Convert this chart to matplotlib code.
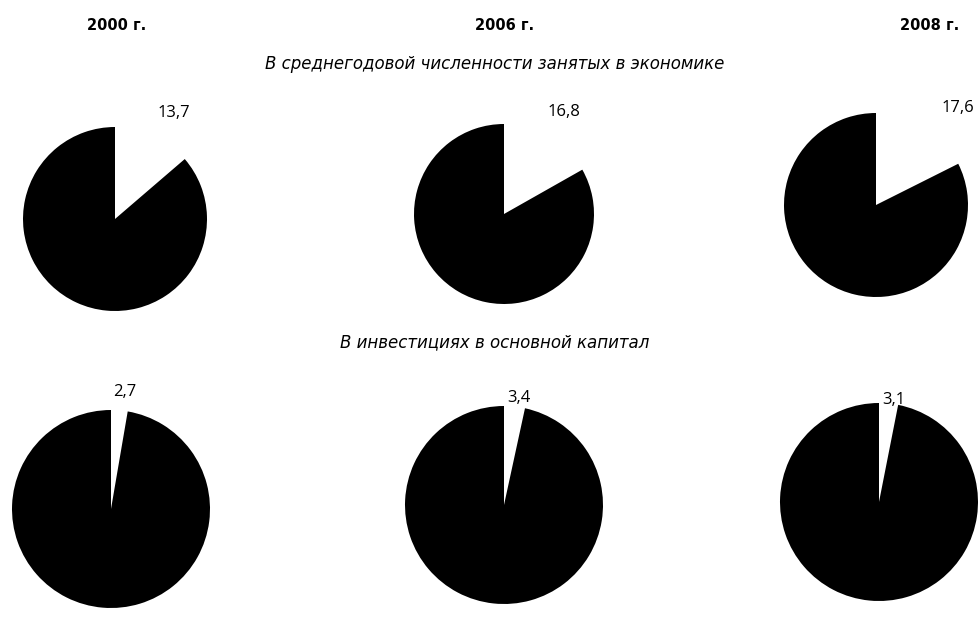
import numpy as np
import matplotlib.pyplot as plt

plt.rcParams['font.family'] = ['Open Sans', 'DejaVu Sans']

years = ['2000 г.', '2006 г.', '2008 г.']
row_titles = ['В среднегодовой численности занятых в экономике',
              'В инвестициях в основной капитал']
employment = [13.7, 16.8, 17.6]
investment = [2.7, 3.4, 3.1]

W, H = 979, 622
fig = plt.figure(figsize=(W / 100, H / 100), dpi=100)

# pie centres, radii and label offsets in pixels (y measured from top)
layout = [
    [(115, 219, 92, 59, -106), (504, 214, 90, 60, -102), (876, 205, 92, 82, -97)],
    [(111, 509, 99, 14, -117), (504, 505, 99, 15, -107), (879, 502, 99, 15, -102)],
]

for row, values in enumerate([employment, investment]):
    for col, v in enumerate(values):
        cx, cy, r, lx, ly = layout[row][col]
        ax = fig.add_axes([(cx - r) / W, (H - cy - r) / H, 2 * r / W, 2 * r / H])
        ax.pie([v, 100 - v], colors=['white', 'black'], startangle=90,
               counterclock=False, radius=1)
        ax.set_xlim(-1, 1)
        ax.set_ylim(-1, 1)
        fig.text((cx + lx) / W, 1 - (cy + ly) / H, f'{v:.1f}'.replace('.', ','),
                 ha='center', va='center', fontsize=12)

for x, t in zip([117, 505, 930], years):
    fig.text(x / W, 1 - 25 / H, t, ha='center', va='center', fontsize=10.5,
             fontweight='bold', family='DejaVu Sans')

for y, t in zip([64, 342], row_titles):
    fig.text(495 / W, 1 - y / H, t, ha='center', va='center', fontsize=12,
             style='italic', family='DejaVu Sans')

fig.savefig('out.png', dpi=100)
